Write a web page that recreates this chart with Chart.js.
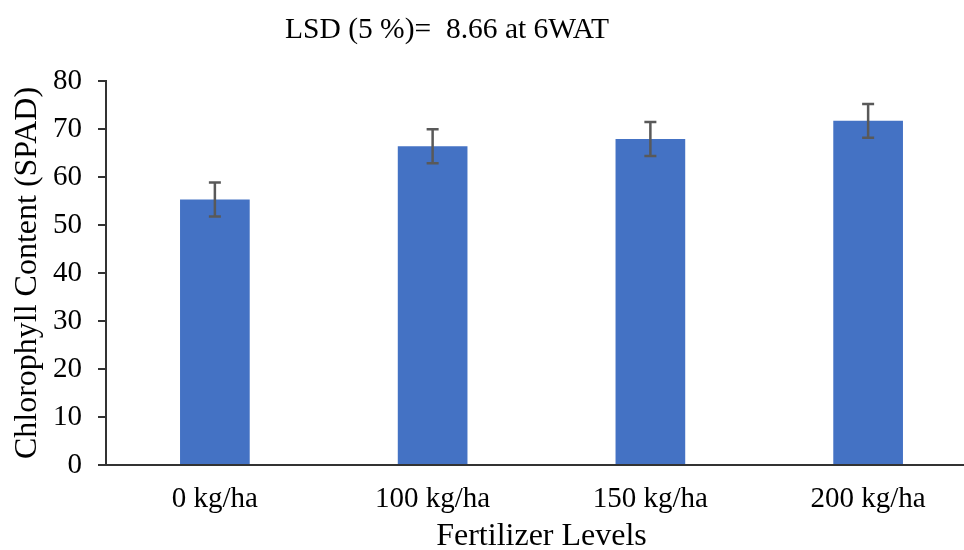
<!DOCTYPE html>
<html>
<head>
<meta charset="utf-8">
<script src="https://cdn.jsdelivr.net/npm/chart.js@4"></script>
<style>
  html, body { margin: 0; padding: 0; background: #fff; overflow: hidden; width: 964px; height: 550px; }
  #wrap { position: relative; width: 964px; height: 550px; overflow: hidden; }
  #ttl { position: absolute; left: 0; width: 894px; top: 14px; text-align: center;
         font-family: 'Liberation Serif', 'Times New Roman', serif; font-size: 29.5px; line-height: 1;
         white-space: pre; color: #000; }
  canvas { position: absolute; left: 0; top: 0; }
</style>
</head>
<body>
<div id="wrap">
  <canvas id="c" width="990" height="550"></canvas>
  <div id="ttl">LSD (5 %)=  8.66 at 6WAT</div>
</div>
<script>
const categories = ['0 kg/ha', '100 kg/ha', '150 kg/ha', '200 kg/ha'];
const chlorophyll = [55.3, 66.4, 67.9, 71.7];
const errors = [3.55, 3.55, 3.55, 3.5];
const yTicks = [0, 10, 20, 30, 40, 50, 60, 70, 80];

const FONT = "'Liberation Serif', 'Times New Roman', serif";

const errorBarPlugin = {
  id: 'errorBars',
  afterDatasetsDraw(chart) {
    const meta = chart.getDatasetMeta(0);
    const y = chart.scales.y;
    const ctx = chart.ctx;
    ctx.save();
    ctx.strokeStyle = '#595959';
    ctx.lineWidth = 2.5;
    meta.data.forEach((bar, i) => {
      const v = chlorophyll[i], e = errors[i];
      const yt = y.getPixelForValue(v + e);
      const yb = y.getPixelForValue(v - e);
      const x = bar.x;
      ctx.beginPath();
      ctx.moveTo(x, yt); ctx.lineTo(x, yb);
      ctx.moveTo(x - 6, yt); ctx.lineTo(x + 6, yt);
      ctx.moveTo(x - 6, yb); ctx.lineTo(x + 6, yb);
      ctx.stroke();
    });
    ctx.restore();
  }
};

new Chart(document.getElementById('c'), {
  type: 'bar',
  data: {
    labels: categories,
    datasets: [{
      data: chlorophyll,
      backgroundColor: '#4472C4',
      borderWidth: 0,
      barPercentage: 0.32,
      categoryPercentage: 1.0
    }]
  },
  options: {
    responsive: false,
    animation: false,
    layout: { padding: { top: 81, right: 13, bottom: 0, left: 0 } },
    plugins: { legend: { display: false }, tooltip: { enabled: false } },
    scales: {
      x: {
        grid: { display: false, drawTicks: false },
        border: { display: true, color: '#333333', width: 2 },
        ticks: { color: '#000', font: { family: FONT, size: 29 }, padding: 17, maxRotation: 0 },
        title: { display: true, text: 'Fertilizer Levels', color: '#000',
                 font: { family: FONT, size: 32, lineHeight: 0.85 }, padding: { top: 0, bottom: 0 } },
        afterFit(s) { s.height = 85; }
      },
      y: {
        min: 0, max: 80,
        afterBuildTicks(s) { s.ticks = yTicks.map(v => ({ value: v })); },
        grid: { display: true, drawOnChartArea: false, drawTicks: true, tickLength: 8,
                color: '#333333', lineWidth: 2 },
        border: { display: true, color: '#333333', width: 2 },
        ticks: { color: '#000', font: { family: FONT, size: 29 }, padding: 16 },
        title: { display: true, text: 'Chlorophyll Content (SPAD)', color: '#000',
                 font: { family: FONT, size: 32 }, padding: { top: 8, bottom: 0 } },
        afterFit(s) { s.width = 106; }
      }
    }
  },
  plugins: [errorBarPlugin]
});
</script>
</body>
</html>
